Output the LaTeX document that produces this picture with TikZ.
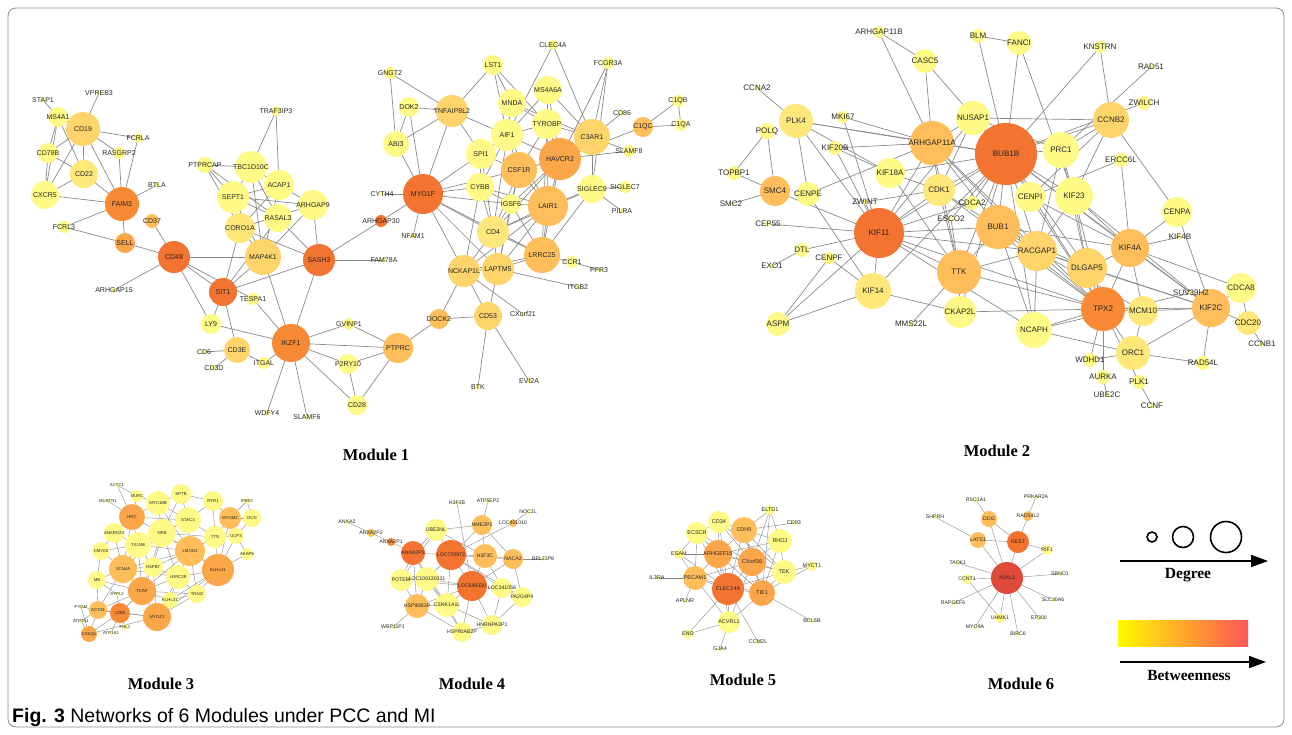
\documentclass[tikz,border=0pt]{standalone}
\usepackage{fontspec}
\setmainfont{Liberation Sans}
\newfontfamily\capfont{Liberation Serif}
\usetikzlibrary{arrows.meta}
\pgfdeclarelayer{background}
\pgfdeclarelayer{fg}
\pgfsetlayers{background,main,fg}
\definecolor{c1}{HTML}{FFFA86}
\definecolor{c2}{HTML}{FFE77A}
\definecolor{c3}{HTML}{FFD46A}
\definecolor{c4}{HTML}{FFBE5A}
\definecolor{c5}{HTML}{FCA64A}
\definecolor{c6}{HTML}{F88A36}
\definecolor{c7}{HTML}{F27430}
\definecolor{c8}{HTML}{E04A3A}
\definecolor{edgec}{HTML}{8A8A8A}
\tikzset{
  nd/.style={circle,inner sep=0pt,draw=none},
  lab/.style={inner sep=0pt,text=black!85},
  ed/.style={draw=edgec,line width=0.7pt},
  eds/.style={draw=edgec,line width=0.4pt},
  modlab/.style={font=\capfont\bfseries\fontsize{16.5}{18}\selectfont},
  leglab/.style={font=\capfont\bfseries\fontsize{15.5}{17}\selectfont},
  legarrow/.style={line width=1.8pt,-{Triangle[length=17pt,width=12pt]}},
  legcirc/.style={circle,draw=black,line width=1.6pt,inner sep=0pt}
}
\newcommand\N[6]{\node[nd,fill=#5,minimum size=#4*2pt] (#1) at (#2,#3) {};
  \begin{pgfonlayer}{fg}\node[lab] (#1-t) at (#2,#3) {#6};\end{pgfonlayer}}
\begin{document}
\begin{tikzpicture}[x=1pt,y=-1pt]
\useasboundingbox (0,0) rectangle (1292,734);
\draw[rounded corners=8pt,draw=black!45,line width=0.8pt] (8,8) rectangle (1284,727);

% ---------------- Module 1 ----------------
\begin{scope}[font=\fontsize{7}{8}\selectfont]
\N{STAP1}{43}{100}{2.5}{c1}{STAP1}
\N{VPREB3}{99}{93}{2.5}{c1}{VPREB3}
\N{MS4A1}{58}{117}{10}{c1}{MS4A1}
\N{CD19}{83}{129}{17}{c3}{CD19}
\N{FCRLA}{138}{138}{5}{c1}{FCRLA}
\N{RASGRP2}{119}{153}{6}{c1}{RASGRP2}
\N{CD79B}{48}{153}{10}{c1}{CD79B}
\N{CD22}{84}{174}{14}{c2}{CD22}
\N{CXCR5}{45}{195}{14}{c1}{CXCR5}
\N{FAIM3}{122}{204}{17}{c6}{FAIM3}
\N{BTLA}{157}{185}{2.5}{c1}{BTLA}
\N{CD37}{152}{221}{7}{c4}{CD37}
\N{FCRL3}{64}{227}{6}{c1}{FCRL3}
\N{SELL}{125}{243}{10}{c5}{SELL}
\N{CD48}{174}{257}{16}{c7}{CD48}
\N{ARHGAP15}{114}{290}{2.5}{c1}{ARHGAP15}
\N{MAP4K1}{263}{257}{18}{c3}{MAP4K1}
\N{SASH3}{319}{260}{16}{c7}{SASH3}
\N{FAM78A}{384}{260}{2.5}{c1}{FAM78A}
\N{SIT1}{223}{292}{14}{c7}{SIT1}
\N{TESPA1}{253}{299}{6}{c1}{TESPA1}
\N{LY9}{211}{324}{10}{c1}{LY9}
\N{IKZF1}{291}{343}{19}{c6}{IKZF1}
\N{CD3E}{237}{350}{13}{c3}{CD3E}
\N{CD6}{204}{352}{2.5}{c1}{CD6}
\N{CD3D}{214}{368}{2.5}{c1}{CD3D}
\N{ITGAL}{264}{363}{6}{c1}{ITGAL}
\N{GVINP1}{349}{324}{6}{c1}{GVINP1}
\N{P2RY10}{348}{364}{10}{c1}{P2RY10}
\N{CD28}{357}{405}{10}{c1}{CD28}
\N{WDFY4}{267}{413}{2.5}{c1}{WDFY4}
\N{SLAMF6}{307}{417}{2.5}{c1}{SLAMF6}
\N{PTPRC}{398}{348}{15}{c4}{PTPRC}
\N{PTPRCAP}{205}{165}{8}{c1}{PTPRCAP}
\N{TBC1D10C}{251}{167}{16}{c1}{TBC1D10C}
\N{ACAP1}{279}{185}{15}{c1}{ACAP1}
\N{SEPT1}{233}{197}{16}{c1}{SEPT1}
\N{ARHGAP9}{313}{205}{15}{c1}{ARHGAP9}
\N{RASAL3}{278}{218}{14}{c1}{RASAL3}
\N{CORO1A}{240}{228}{15}{c2}{CORO1A}
\N{TRAF3IP3}{276}{111}{5}{c1}{TRAF3IP3}
\N{CYTH4}{382}{194}{2.5}{c1}{CYTH4}
\N{ARHGAP30}{381}{221}{6}{c7}{ARHGAP30}
\N{GNGT2}{390}{73}{6}{c1}{GNGT2}
\N{LST1}{493}{65}{10}{c1}{LST1}
\N{CLEC4A}{553}{45}{5}{c1}{CLEC4A}
\N{FCGR3A}{608}{63}{6}{c1}{FCGR3A}
\N{MS4A6A}{548}{90}{14}{c1}{MS4A6A}
\N{MNDA}{512}{103}{14}{c1}{MNDA}
\N{DOK2}{409}{107}{10}{c1}{DOK2}
\N{TNFAIP8L2}{452}{111}{16}{c3}{TNFAIP8L2}
\N{TYROBP}{547}{124}{15}{c1}{TYROBP}
\N{C3AR1}{592}{137}{18}{c3}{C3AR1}
\N{CD86}{622}{113}{2.5}{c1}{CD86}
\N{C1QB}{678}{101}{6}{c1}{C1QB}
\N{C1QC}{643}{127}{10}{c4}{C1QC}
\N{C1QA}{681}{125}{6}{c1}{C1QA}
\N{ABI3}{396}{144}{13}{c1}{ABI3}
\N{AIF1}{507}{135}{16}{c1}{AIF1}
\N{SPI1}{481}{154}{15}{c1}{SPI1}
\N{HAVCR2}{560}{159}{21}{c5}{HAVCR2}
\N{CSF1R}{519}{170}{18}{c4}{CSF1R}
\N{SLAMF8}{629}{151}{6}{c1}{SLAMF8}
\N{MYO1F}{423}{194}{20}{c7}{MYO1F}
\N{CYBB}{480}{187}{14}{c1}{CYBB}
\N{SIGLEC9}{592}{189}{14}{c1}{SIGLEC9}
\N{SIGLEC7}{625}{187}{6}{c1}{SIGLEC7}
\N{PILRA}{622}{211}{2.5}{c1}{PILRA}
\N{IGSF6}{511}{204}{10}{c1}{IGSF6}
\N{LAIR1}{548}{206}{20}{c4}{LAIR1}
\N{NFAM1}{413}{236}{2.5}{c1}{NFAM1}
\N{CD4}{493}{232}{16}{c2}{CD4}
\N{LRRC25}{542}{255}{18}{c4}{LRRC25}
\N{CCR1}{572}{262}{6}{c1}{CCR1}
\N{FPR3}{599}{270}{2.5}{c1}{FPR3}
\N{NCKAP1L}{464}{271}{16}{c3}{NCKAP1L}
\N{LAPTM5}{498}{269}{16}{c3}{LAPTM5}
\N{ITGB2}{578}{287}{2.5}{c1}{ITGB2}
\N{DOCK2}{439}{319}{10}{c4}{DOCK2}
\N{CD53}{488}{316}{14}{c3}{CD53}
\N{CXorf21}{523}{314}{2.5}{c1}{CXorf21}
\N{BTK}{478}{387}{2.5}{c1}{BTK}
\N{EVI2A}{529}{381}{2.5}{c1}{EVI2A}
\end{scope}
\begin{pgfonlayer}{background}
\foreach \a/\b in {STAP1/MS4A1, VPREB3/CD19, MS4A1/CD19, MS4A1/CD79B, MS4A1/CXCR5, MS4A1/CD22, CD19/FCRLA, CD19/RASGRP2, CD19/CD79B, CD19/CD22, CD19/CXCR5, CD19/FAIM3, CD79B/CD22, CD79B/CXCR5, CXCR5/CD22, CD22/FAIM3, CXCR5/FAIM3, RASGRP2/FAIM3, FCRLA/FAIM3, FAIM3/BTLA, FAIM3/FCRL3, FAIM3/SELL, FCRL3/SELL, SELL/CD48, CD37/CD48, CD48/ARHGAP15, CD48/MAP4K1, CD48/SIT1, CD48/TESPA1, CD48/LY9, TESPA1/IKZF1, SIT1/MAP4K1, SIT1/SASH3, SIT1/CORO1A, SIT1/CD3E, SIT1/LY9, SIT1/RASAL3, MAP4K1/IKZF1, MAP4K1/SEPT1, MAP4K1/TBC1D10C, MAP4K1/ACAP1, MAP4K1/ARHGAP9, MAP4K1/CORO1A, SASH3/IKZF1, SASH3/ARHGAP9, SASH3/CORO1A, SASH3/RASAL3, SASH3/FAM78A, SASH3/ARHGAP30, ARHGAP30/MYO1F, TRAF3IP3/TBC1D10C, TRAF3IP3/ACAP1, PTPRCAP/TBC1D10C, PTPRCAP/SEPT1, PTPRCAP/RASAL3, PTPRCAP/CORO1A, TBC1D10C/ACAP1, TBC1D10C/SEPT1, SEPT1/ACAP1, SEPT1/ARHGAP9, SEPT1/RASAL3, TBC1D10C/RASAL3, ACAP1/ARHGAP9, CORO1A/ACAP1, CORO1A/ARHGAP9, LY9/IKZF1, CD3E/CD6, CD3E/CD3D, ITGAL/IKZF1, CD3E/ITGAL, IKZF1/GVINP1, IKZF1/PTPRC, IKZF1/P2RY10, IKZF1/CD28, IKZF1/WDFY4, IKZF1/SLAMF6, GVINP1/PTPRC, P2RY10/PTPRC, P2RY10/CD28, CD28/PTPRC, PTPRC/DOCK2, DOCK2/NCKAP1L, DOCK2/CD53, CD53/NCKAP1L, CD53/LAPTM5, CD53/BTK, CD53/EVI2A, NCKAP1L/CXorf21, LAPTM5/ITGB2, GNGT2/ABI3, GNGT2/TNFAIP8L2, DOK2/TNFAIP8L2, DOK2/ABI3, DOK2/MYO1F, ABI3/TNFAIP8L2, ABI3/MYO1F, TNFAIP8L2/MYO1F, TNFAIP8L2/LST1, TNFAIP8L2/AIF1, TNFAIP8L2/SPI1, CYTH4/MYO1F, NFAM1/MYO1F, MYO1F/SPI1, MYO1F/CYBB, MYO1F/CSF1R, MYO1F/IGSF6, MYO1F/CD4, MYO1F/NCKAP1L, MYO1F/LAPTM5, MYO1F/LRRC25, LST1/AIF1, LST1/TYROBP, LST1/MNDA, CLEC4A/C3AR1, CLEC4A/AIF1, FCGR3A/C3AR1, FCGR3A/HAVCR2, FCGR3A/SIGLEC9, MS4A6A/AIF1, MS4A6A/C3AR1, MS4A6A/TYROBP, MS4A6A/HAVCR2, MNDA/TYROBP, MNDA/C3AR1, MNDA/AIF1, MNDA/CD4, TYROBP/AIF1, TYROBP/HAVCR2, TYROBP/LAIR1, TYROBP/CSF1R, TYROBP/C3AR1, TYROBP/LRRC25, C3AR1/HAVCR2, C3AR1/CD86, C3AR1/SIGLEC9, C3AR1/SLAMF8, C1QC/HAVCR2, C1QC/C1QB, C1QC/C1QA, C1QB/C1QA, HAVCR2/SLAMF8, AIF1/CSF1R, AIF1/CYBB, AIF1/SPI1, AIF1/HAVCR2, AIF1/LAIR1, SPI1/CSF1R, SPI1/CYBB, SPI1/CD4, HAVCR2/CSF1R, HAVCR2/LAIR1, HAVCR2/LRRC25, HAVCR2/CD4, HAVCR2/IGSF6, CSF1R/LAIR1, CSF1R/CD4, CSF1R/LAPTM5, CSF1R/IGSF6, CYBB/IGSF6, CYBB/CD4, CYBB/NCKAP1L, CYBB/LAIR1, SIGLEC9/SIGLEC7, SIGLEC9/PILRA, SIGLEC9/LAIR1, SIGLEC9/LRRC25, SIGLEC9/CD4, IGSF6/LAIR1, IGSF6/CD4, IGSF6/LAPTM5, IGSF6/LRRC25, LAIR1/LRRC25, LAIR1/CD4, LAIR1/LAPTM5, LAIR1/NCKAP1L, CD4/LAPTM5, CD4/NCKAP1L, CD4/LRRC25, LRRC25/CCR1, CCR1/FPR3, LRRC25/LAPTM5, LRRC25/NCKAP1L, NCKAP1L/LAPTM5}
  \draw[ed] (\a.center) -- (\b.center);
\end{pgfonlayer}

% ---------------- Module 2 ----------------
\begin{scope}[font=\fontsize{8}{9}\selectfont]
\N{ARHGAP11B}{879}{32}{6}{c1}{ARHGAP11B}
\N{CASC5}{925}{61}{12}{c1}{CASC5}
\N{BLM}{978}{36}{7}{c1}{BLM}
\N{FANCI}{1019}{43}{12}{c1}{FANCI}
\N{KNSTRN}{1100}{47}{6}{c1}{KNSTRN}
\N{RAD51}{1151}{67}{2.5}{c1}{RAD51}
\N{ZWILCH}{1144}{103}{7}{c1}{ZWILCH}
\N{CCNB2}{1111}{120}{18}{c3}{CCNB2}
\N{NUSAP1}{973}{118}{17}{c1}{NUSAP1}
\N{PRC1}{1061}{150}{18}{c1}{PRC1}
\N{ERCC6L}{1121}{160}{7}{c1}{ERCC6L}
\N{CCNA2}{757}{88}{2.5}{c1}{CCNA2}
\N{PLK4}{796}{121}{17}{c2}{PLK4}
\N{MKI67}{843}{117}{6}{c1}{MKI67}
\N{POLQ}{767}{131}{8}{c1}{POLQ}
\N{ARHGAP11A}{932}{143}{22}{c4}{ARHGAP11A}
\N{KIF20B}{835}{148}{7}{c1}{KIF20B}
\N{KIF18A}{890}{173}{15}{c1}{KIF18A}
\N{TOPBP1}{734}{173}{7}{c1}{TOPBP1}
\N{SMC4}{775}{191}{15}{c4}{SMC4}
\N{CENPE}{808}{194}{12}{c1}{CENPE}
\N{CDK1}{939}{190}{16}{c2}{CDK1}
\N{ZWINT}{865}{202}{2.5}{c1}{ZWINT}
\N{CDCA2}{972}{203}{7}{c1}{CDCA2}
\N{SMC2}{731}{204}{2.5}{c1}{SMC2}
\N{ESCO2}{951}{219}{2.5}{c1}{ESCO2}
\N{CEP55}{768}{224}{2.5}{c1}{CEP55}
\N{KIF11}{879}{233}{25}{c7}{KIF11}
\N{BUB1B}{1006}{154}{31}{c7}{BUB1B}
\N{CENPI}{1030}{197}{15}{c1}{CENPI}
\N{KIF23}{1074}{196}{19}{c1}{KIF23}
\N{CENPA}{1177}{212}{15}{c1}{CENPA}
\N{KIF4B}{1180}{237}{2.5}{c1}{KIF4B}
\N{BUB1}{998}{227}{22}{c4}{BUB1}
\N{RACGAP1}{1037}{251}{20}{c3}{RACGAP1}
\N{KIF4A}{1130}{248}{19}{c4}{KIF4A}
\N{DTL}{802}{250}{7}{c1}{DTL}
\N{EXO1}{772}{266}{2.5}{c1}{EXO1}
\N{CENPF}{829}{258}{6}{c1}{CENPF}
\N{KIF14}{873}{291}{18}{c2}{KIF14}
\N{TTK}{959}{272}{22}{c4}{TTK}
\N{CKAP2L}{960}{312}{16}{c1}{CKAP2L}
\N{ASPM}{778}{324}{12}{c1}{ASPM}
\N{MMS22L}{911}{324}{2.5}{c1}{MMS22L}
\N{DLGAP5}{1087}{268}{20}{c3}{DLGAP5}
\N{CDCA8}{1241}{288}{15}{c1}{CDCA8}
\N{SUV39H2}{1191}{293}{2.5}{c1}{SUV39H2}
\N{TPX2}{1103}{309}{22}{c6}{TPX2}
\N{MCM10}{1143}{311}{15}{c2}{MCM10}
\N{KIF2C}{1211}{308}{19}{c4}{KIF2C}
\N{NCAPH}{1034}{330}{18}{c1}{NCAPH}
\N{CDC20}{1248}{323}{12}{c2}{CDC20}
\N{CCNB1}{1262}{344}{2.5}{c1}{CCNB1}
\N{ORC1}{1133}{353}{17}{c2}{ORC1}
\N{WDHD1}{1090}{360}{7}{c1}{WDHD1}
\N{RAD54L}{1203}{363}{7}{c1}{RAD54L}
\N{AURKA}{1103}{377}{7}{c1}{AURKA}
\N{PLK1}{1139}{382}{7}{c1}{PLK1}
\N{UBE2C}{1107}{395}{2.5}{c1}{UBE2C}
\N{CCNF}{1152}{406}{2.5}{c1}{CCNF}
\end{scope}
\begin{pgfonlayer}{background}
\foreach \a/\b in {ARHGAP11B/CASC5, ARHGAP11B/ARHGAP11A, CASC5/ARHGAP11A, CASC5/BUB1B, BLM/FANCI, BLM/BUB1B, FANCI/BUB1B, FANCI/KIF23, KNSTRN/BUB1B, KNSTRN/CCNB2, RAD51/PRC1, ZWILCH/BUB1B, CCNB2/NUSAP1, CCNB2/BUB1B, CCNB2/PRC1, CCNB2/KIF23, CCNB2/CENPA, CCNB2/CENPI, NUSAP1/ARHGAP11A, NUSAP1/BUB1B, NUSAP1/CDK1, NUSAP1/KIF11, NUSAP1/PRC1, PRC1/BUB1B, PRC1/KIF23, PRC1/RACGAP1, PRC1/DLGAP5, ERCC6L/KIF4A, ERCC6L/CENPI, CCNA2/PLK4, PLK4/ARHGAP11A, PLK4/KIF18A, PLK4/CENPE, PLK4/KIF11, PLK4/BUB1B, MKI67/ARHGAP11A, MKI67/KIF11, KIF20B/ARHGAP11A, KIF20B/KIF11, KIF20B/KIF18A, POLQ/TOPBP1, POLQ/SMC4, TOPBP1/SMC4, SMC2/SMC4, SMC4/KIF11, CENPE/ARHGAP11A, CENPE/KIF14, KIF18A/CDK1, KIF18A/TTK, KIF18A/BUB1B, ZWINT/CDK1, ZWINT/KIF11, CEP55/KIF11, DTL/KIF11, DTL/EXO1, CENPF/KIF14, CENPF/ASPM, ASPM/KIF14, ASPM/KIF11, KIF11/ARHGAP11A, KIF11/BUB1B, KIF11/CDK1, KIF11/BUB1, KIF11/TTK, KIF11/KIF14, KIF11/TPX2, KIF11/RACGAP1, KIF14/CKAP2L, KIF14/BUB1B, MMS22L/TTK, TTK/BUB1B, TTK/CDK1, TTK/BUB1, TTK/CKAP2L, TTK/TPX2, TTK/RACGAP1, TTK/ARHGAP11A, TTK/ESCO2, CKAP2L/BUB1B, CKAP2L/TPX2, CDK1/BUB1B, CDK1/ARHGAP11A, CDK1/BUB1, CDK1/TPX2, ARHGAP11A/BUB1B, ARHGAP11A/BUB1, ARHGAP11A/TPX2, ARHGAP11A/RACGAP1, BUB1B/BUB1, BUB1B/CENPI, BUB1B/KIF23, BUB1B/RACGAP1, BUB1B/TPX2, BUB1B/KIF4A, BUB1B/NCAPH, BUB1B/DLGAP5, BUB1B/KIF2C, BUB1/RACGAP1, BUB1/TPX2, BUB1/NCAPH, BUB1/KIF4A, BUB1/DLGAP5, CENPI/TPX2, CENPI/KIF4A, KIF23/RACGAP1, KIF23/TPX2, KIF23/DLGAP5, KIF23/KIF4A, KIF23/KIF2C, CENPA/KIF4A, CENPA/KIF2C, KIF4B/KIF4A, KIF4A/TPX2, KIF4A/DLGAP5, KIF4A/CDCA8, KIF4A/KIF2C, KIF4A/MCM10, RACGAP1/DLGAP5, RACGAP1/TPX2, RACGAP1/NCAPH, RACGAP1/KIF2C, RACGAP1/MCM10, DLGAP5/TPX2, DLGAP5/KIF2C, TPX2/MCM10, TPX2/ORC1, TPX2/NCAPH, TPX2/WDHD1, TPX2/AURKA, TPX2/PLK1, TPX2/KIF2C, NCAPH/SUV39H2, MCM10/ORC1, MCM10/KIF2C, KIF2C/CDCA8, KIF2C/CDC20, KIF2C/RAD54L, KIF2C/ORC1, CDCA8/CDC20, CDC20/CCNB1, ORC1/WDHD1, ORC1/RAD54L, ORC1/NCAPH, AURKA/UBE2C, PLK1/CCNF, NCAPH/KIF11, CDCA2/KIF11, CDCA2/BUB1B, ESCO2/BUB1B}
  \draw[ed] (\a.center) -- (\b.center);
\end{pgfonlayer}

% ---------------- Module 3 ----------------
\begin{scope}[font=\fontsize{4.3}{5}\selectfont]
\N{ACTC1}{117}{485}{2}{c1}{ACTC1}
\N{MUSTN1}{108}{501}{2}{c1}{MUSTN1}
\N{MURC}{137}{496}{6}{c1}{MURC}
\N{MYO18B}{158}{503}{12}{c1}{MYO18B}
\N{SPTB}{181}{494}{10}{c1}{SPTB}
\N{RYR1}{213}{501}{10}{c1}{RYR1}
\N{IP6K3}{247}{501}{3}{c1}{IP6K3}
\N{HRC}{132}{517}{13}{c5}{HRC}
\N{MYOM2}{230}{518}{11}{c4}{MYOM2}
\N{DCN}{252}{518}{9}{c1}{DCN}
\N{NEB}{162}{533}{14}{c1}{NEB}
\N{STAC3}{188}{520}{13}{c1}{STAC3}
\N{ANKRD23}{114}{533}{10}{c1}{ANKRD23}
\N{TTN}{215}{537}{11}{c1}{TTN}
\N{UCP3}{236}{536}{8}{c1}{UCP3}
\N{TXLNB}{138}{545}{13}{c1}{TXLNB}
\N{LMOD3}{190}{551}{15}{c4}{LMOD3}
\N{CMYA5}{101}{551}{9}{c1}{CMYA5}
\N{AKAP6}{247}{554}{6}{c1}{AKAP6}
\N{SCN4A}{123}{569}{14}{c4}{SCN4A}
\N{HSPB7}{153}{567}{10}{c1}{HSPB7}
\N{LRRC39}{178}{577}{12}{c1}{LRRC39}
\N{KLHL41}{218}{570}{16}{c5}{KLHL41}
\N{MB}{97}{580}{9}{c1}{MB}
\N{TCAP}{142}{591}{14}{c5}{TCAP}
\N{SYPL2}{117}{594}{2}{c1}{SYPL2}
\N{TNNI2}{197}{594}{9}{c1}{TNNI2}
\N{KLHL31}{170}{600}{8}{c1}{KLHL31}
\N{PYGM}{81}{607}{2}{c1}{PYGM}
\N{ACTA1}{98}{610}{9}{c4}{ACTA1}
\N{LDB3}{120}{613}{10}{c6}{LDB3}
\N{ATP2A1}{81}{621}{2}{c1}{ATP2A1}
\N{MYOZ1}{157}{617}{14}{c5}{MYOZ1}
\N{FHL1}{125}{627}{3}{c1}{FHL1}
\N{CASQ1}{89}{634}{8}{c5}{CASQ1}
\N{ATP1A2}{111}{633}{2}{c1}{ATP1A2}
\end{scope}
\begin{pgfonlayer}{background}
\foreach \a/\b in {ACTC1/MURC, ACTC1/HRC, MUSTN1/HRC, MURC/HRC, MURC/MYO18B, MYO18B/SPTB, MYO18B/NEB, MYO18B/STAC3, MYO18B/HRC, MYO18B/LMOD3, SPTB/RYR1, SPTB/STAC3, SPTB/NEB, RYR1/STAC3, RYR1/MYOM2, RYR1/TTN, IP6K3/MYOM2, IP6K3/DCN, MYOM2/DCN, MYOM2/TTN, MYOM2/UCP3, MYOM2/KLHL41, DCN/UCP3, UCP3/TTN, UCP3/AKAP6, UCP3/KLHL41, AKAP6/KLHL41, HRC/NEB, HRC/TXLNB, HRC/ANKRD23, HRC/STAC3, HRC/SCN4A, NEB/STAC3, NEB/TXLNB, NEB/LMOD3, NEB/HSPB7, NEB/TTN, NEB/SCN4A, NEB/LRRC39, NEB/KLHL41, NEB/TCAP, STAC3/LMOD3, STAC3/TTN, STAC3/TXLNB, ANKRD23/TXLNB, ANKRD23/CMYA5, ANKRD23/SCN4A, TTN/LMOD3, TTN/KLHL41, TXLNB/CMYA5, TXLNB/SCN4A, TXLNB/HSPB7, TXLNB/LMOD3, TXLNB/TCAP, LMOD3/HSPB7, LMOD3/LRRC39, LMOD3/KLHL41, LMOD3/TCAP, LMOD3/TNNI2, LMOD3/SCN4A, CMYA5/SCN4A, CMYA5/MB, SCN4A/HSPB7, SCN4A/TCAP, SCN4A/MB, SCN4A/LRRC39, SCN4A/ACTA1, HSPB7/TCAP, HSPB7/LRRC39, HSPB7/MYOZ1, LRRC39/KLHL41, LRRC39/TCAP, LRRC39/KLHL31, LRRC39/TNNI2, LRRC39/MYOZ1, KLHL41/TNNI2, KLHL41/KLHL31, KLHL41/MYOZ1, MB/TCAP, MB/ACTA1, MB/SYPL2, TCAP/MYOZ1, TCAP/LDB3, TCAP/KLHL31, TCAP/ACTA1, TCAP/TNNI2, SYPL2/LDB3, TNNI2/KLHL31, TNNI2/MYOZ1, KLHL31/MYOZ1, PYGM/ACTA1, PYGM/CASQ1, ACTA1/LDB3, ACTA1/CASQ1, ACTA1/ATP2A1, ACTA1/MYOZ1, LDB3/MYOZ1, LDB3/ATP1A2, LDB3/FHL1, LDB3/CASQ1, ATP2A1/CASQ1, CASQ1/MYOZ1}
  \draw[eds] (\a.center) -- (\b.center);
\end{pgfonlayer}

% ---------------- Module 4 ----------------
\begin{scope}[font=\fontsize{5.2}{6}\selectfont]
\N{ANXA2}{347}{522}{2}{c1}{ANXA2}
\N{ANXA2P2}{371}{533}{4}{c4}{ANXA2P2}
\N{ANXA2P1}{391}{542}{4}{c6}{ANXA2P1}
\N{H3F3B}{457}{503}{2}{c1}{H3F3B}
\N{ATP5EP2}{488}{501}{2}{c1}{ATP5EP2}
\N{NOC2L}{528}{512}{2}{c1}{NOC2L}
\N{LOC401010}{513}{523}{4}{c4}{LOC401010}
\N{NME2P1}{482}{525}{10}{c4}{NME2P1}
\N{UBE2NL}{436}{530}{11}{c1}{UBE2NL}
\N{ANXA2P3}{413}{553}{12}{c7}{ANXA2P3}
\N{LOC729972}{451}{555}{15}{c7}{LOC729972}
\N{H3F3C}{485}{556}{12}{c4}{H3F3C}
\N{NACA2}{513}{559}{10}{c4}{NACA2}
\N{RPL23P8}{543}{559}{2}{c1}{RPL23P8}
\N{POTEM}{401}{580}{11}{c1}{POTEM}
\N{LOC100130331}{427}{579}{12}{c1}{LOC100130331}
\N{LOC649330}{472}{586}{15}{c7}{LOC649330}
\N{LOC341056}{502}{588}{10}{c1}{LOC341056}
\N{PA2G4P4}{522}{597}{10}{c1}{PA2G4P4}
\N{HSP90B3P}{417}{606}{12}{c4}{HSP90B3P}
\N{CSNK1A1L}{447}{605}{12}{c1}{CSNK1A1L}
\N{WBP11P1}{393}{627}{2}{c1}{WBP11P1}
\N{HNRNPA3P1}{492}{625}{10}{c1}{HNRNPA3P1}
\N{HSP90AB2P}{462}{632}{10}{c1}{HSP90AB2P}
\end{scope}
\begin{pgfonlayer}{background}
\foreach \a/\b in {ANXA2/ANXA2P2, ANXA2P2/ANXA2P1, ANXA2P1/ANXA2P3, H3F3B/LOC649330, ATP5EP2/NME2P1, NOC2L/LOC401010, LOC401010/LOC729972, UBE2NL/ANXA2P3, UBE2NL/LOC729972, UBE2NL/H3F3C, UBE2NL/POTEM, UBE2NL/NME2P1, NME2P1/LOC729972, NME2P1/H3F3C, NME2P1/NACA2, ANXA2P3/LOC729972, ANXA2P3/POTEM, ANXA2P3/LOC100130331, ANXA2P3/HSP90B3P, ANXA2P3/CSNK1A1L, LOC729972/H3F3C, LOC729972/LOC649330, LOC729972/LOC100130331, LOC729972/CSNK1A1L, LOC729972/NACA2, LOC729972/LOC341056, LOC729972/PA2G4P4, H3F3C/LOC649330, H3F3C/NACA2, H3F3C/LOC341056, NACA2/RPL23P8, NACA2/LOC649330, NACA2/PA2G4P4, POTEM/LOC100130331, POTEM/HSP90B3P, POTEM/LOC649330, LOC100130331/LOC649330, LOC100130331/HSP90B3P, LOC100130331/CSNK1A1L, LOC100130331/HSP90AB2P, LOC649330/LOC341056, LOC649330/CSNK1A1L, LOC649330/HNRNPA3P1, LOC649330/HSP90AB2P, LOC649330/HSP90B3P, LOC341056/PA2G4P4, LOC341056/HNRNPA3P1, PA2G4P4/HNRNPA3P1, HSP90B3P/CSNK1A1L, HSP90B3P/WBP11P1, HSP90B3P/HSP90AB2P, CSNK1A1L/HSP90AB2P, CSNK1A1L/HNRNPA3P1, HSP90AB2P/HNRNPA3P1}
  \draw[eds] (\a.center) -- (\b.center);
\end{pgfonlayer}

% ---------------- Module 5 ----------------
\begin{scope}[font=\fontsize{5.5}{6}\selectfont]
\N{ELTD1}{770}{510}{5}{c1}{ELTD1}
\N{CD34}{719}{522}{11}{c1}{CD34}
\N{CD93}{794}{523}{2}{c1}{CD93}
\N{CDH5}{744}{530}{13}{c4}{CDH5}
\N{ECSCR}{697}{533}{11}{c1}{ECSCR}
\N{RHOJ}{780}{541}{12}{c1}{RHOJ}
\N{ESAM}{679}{554}{5}{c1}{ESAM}
\N{ARHGEF15}{718}{554}{14}{c5}{ARHGEF15}
\N{CXorf36}{752}{562}{14}{c5}{CXorf36}
\N{TEK}{784}{572}{12}{c1}{TEK}
\N{MYCT1}{812}{566}{5}{c1}{MYCT1}
\N{IL3RA}{657}{578}{2}{c1}{IL3RA}
\N{PECAM1}{695}{578}{12}{c4}{PECAM1}
\N{CLEC14A}{728}{589}{16}{c7}{CLEC14A}
\N{TIE1}{762}{593}{13}{c5}{TIE1}
\N{APLNR}{685}{601}{2}{c1}{APLNR}
\N{ACVRL1}{729}{622}{11}{c1}{ACVRL1}
\N{BCL6B}{812}{621}{2}{c1}{BCL6B}
\N{ENG}{688}{634}{5}{c1}{ENG}
\N{CCM2L}{758}{642}{2}{c1}{CCM2L}
\N{GJA4}{720}{649}{2}{c1}{GJA4}
\end{scope}
\begin{pgfonlayer}{background}
\foreach \a/\b in {ELTD1/CDH5, ELTD1/RHOJ, ELTD1/CXorf36, ELTD1/TIE1, CD93/CDH5, CD34/ECSCR, CD34/CDH5, CD34/ARHGEF15, CD34/CXorf36, CD34/CLEC14A, CD34/TEK, CDH5/RHOJ, CDH5/ARHGEF15, CDH5/CXorf36, CDH5/CLEC14A, CDH5/TIE1, CDH5/TEK, ECSCR/ARHGEF15, ECSCR/PECAM1, ECSCR/CLEC14A, ECSCR/ESAM, ECSCR/CXorf36, RHOJ/CXorf36, RHOJ/TEK, RHOJ/ARHGEF15, RHOJ/TIE1, ESAM/ARHGEF15, ESAM/PECAM1, ESAM/CLEC14A, ARHGEF15/CXorf36, ARHGEF15/PECAM1, ARHGEF15/CLEC14A, ARHGEF15/TIE1, ARHGEF15/TEK, ARHGEF15/ACVRL1, CXorf36/TEK, CXorf36/CLEC14A, CXorf36/TIE1, CXorf36/PECAM1, CXorf36/ACVRL1, TEK/MYCT1, TEK/TIE1, TEK/CLEC14A, MYCT1/TIE1, IL3RA/PECAM1, PECAM1/CLEC14A, PECAM1/APLNR, PECAM1/ACVRL1, PECAM1/TIE1, CLEC14A/TIE1, CLEC14A/ACVRL1, CLEC14A/CCM2L, CLEC14A/ENG, TIE1/BCL6B, TIE1/ACVRL1, ACVRL1/ENG, ACVRL1/GJA4}
  \draw[eds] (\a.center) -- (\b.center);
\end{pgfonlayer}

% ---------------- Module 6 ----------------
\begin{scope}[font=\fontsize{5.2}{6}\selectfont]
\N{RSC1A1}{976}{500}{2}{c1}{RSC1A1}
\N{PRKAR2A}{1036}{497}{2}{c1}{PRKAR2A}
\N{DDI2}{989}{519}{8}{c4}{DDI2}
\N{RAD54L2}{1028}{516}{5}{c4}{RAD54L2}
\N{SHPRH}{935}{517}{2}{c1}{SHPRH}
\N{LATS1}{978}{540}{8}{c4}{LATS1}
\N{REST}{1018}{542}{11}{c7}{REST}
\N{RIF1}{1047}{550}{5}{c1}{RIF1}
\N{TAOK1}{958}{563}{2}{c1}{TAOK1}
\N{ASXL2}{1007}{578}{16}{c8}{ASXL2}
\N{SBNO1}{1060}{574}{2}{c1}{SBNO1}
\N{CCNT1}{967}{579}{5}{c1}{CCNT1}
\N{RAPGEF6}{953}{603}{2}{c1}{RAPGEF6}
\N{SLC30A6}{1053}{600}{2}{c1}{SLC30A6}
\N{UHMK1}{1000}{618}{5}{c1}{UHMK1}
\N{EP300}{1039}{618}{2}{c1}{EP300}
\N{MYO9A}{975}{627}{2}{c1}{MYO9A}
\N{BIRC6}{1018}{634}{2}{c1}{BIRC6}
\end{scope}
\begin{pgfonlayer}{background}
\foreach \a/\b in {RSC1A1/DDI2, DDI2/REST, DDI2/ASXL2, PRKAR2A/RAD54L2, RAD54L2/REST, SHPRH/LATS1, LATS1/REST, LATS1/ASXL2, REST/RIF1, REST/ASXL2, RIF1/ASXL2, TAOK1/ASXL2, SBNO1/ASXL2, CCNT1/ASXL2, CCNT1/UHMK1, RAPGEF6/ASXL2, SLC30A6/ASXL2, UHMK1/ASXL2, EP300/ASXL2, MYO9A/ASXL2, BIRC6/ASXL2}
  \draw[eds] (\a.center) -- (\b.center);
\end{pgfonlayer}

% ---------------- module captions ----------------
\node[modlab] (m1) at (376,455) {Module 1};
\node[modlab] (m2) at (997,451) {Module 2};
\node[modlab] (m3) at (161,684) {Module 3};
\node[modlab] (m4) at (472,684) {Module 4};
\node[modlab] (m5) at (743,680) {Module 5};
\node[modlab] (m6) at (1021,684) {Module 6};

% ---------------- legend ----------------
\node[legcirc,minimum size=10pt] (d1) at (1152,537) {};
\node[legcirc,minimum size=21pt] (d2) at (1183,537) {};
\node[legcirc,minimum size=31pt] (d3) at (1226,537) {};
\coordinate (da) at (1120,561);
\coordinate (db) at (1268,561);
\draw[legarrow] (da) -- (db);
\node[leglab] (deg) at (1188,575) {Degree};
\shade[left color={rgb,255:red,255;green,250;blue,0},middle color={rgb,255:red,255;green,175;blue,40},right color={rgb,255:red,255;green,85;blue,85}] (1118,620) rectangle (1248,646);
\coordinate (ba) at (1120,662);
\coordinate (bb) at (1266,662);
\draw[legarrow] (ba) -- (bb);
\node[leglab] (btw) at (1189,675) {Betweenness};

% ---------------- figure caption ----------------
\node[anchor=base west,font=\fontsize{19.5}{22}\selectfont,inner sep=0pt] (cap) at (12,722) {\textbf{Fig. 3} Networks of 6 Modules under PCC and MI};
\end{tikzpicture}
\end{document}
